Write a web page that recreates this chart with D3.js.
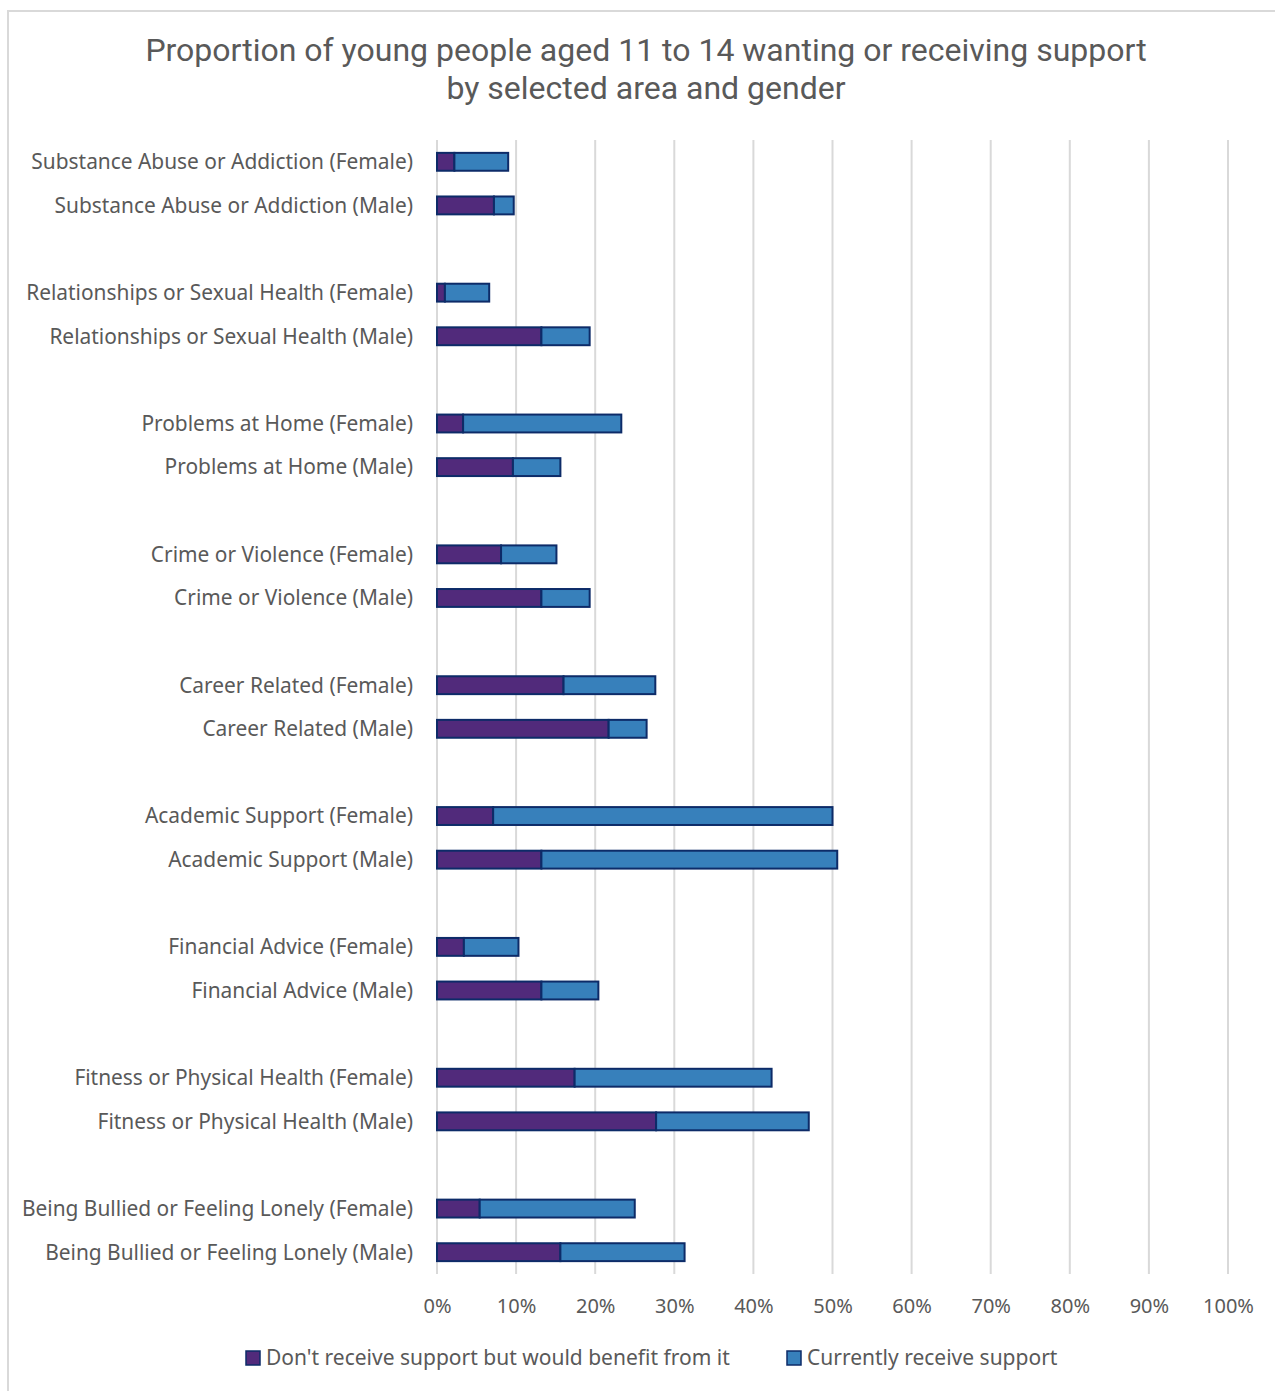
<!DOCTYPE html>
<html>
<head>
<meta charset="utf-8">
<script src="https://cdn.jsdelivr.net/npm/d3@7"></script>
<style>
  html, body { margin: 0; padding: 0; background: #fff; }
  svg { display: block; }
</style>
</head>
<body>
<svg id="chart" width="1275" height="1391"></svg>
<script>
// Support areas, each asked of female and male respondents
const areas = [
  "Substance Abuse or Addiction",
  "Relationships or Sexual Health",
  "Problems at Home",
  "Crime or Violence",
  "Career Related",
  "Academic Support",
  "Financial Advice",
  "Fitness or Physical Health",
  "Being Bullied or Feeling Lonely"
];
const genders = ["Female", "Male"];

// Share (%) who don't receive support but would benefit from it (female, male per area)
const wouldBenefit = [
  2.2, 7.2,
  1.0, 13.2,
  3.3, 9.6,
  8.1, 13.2,
  16.0, 21.7,
  7.1, 13.2,
  3.4, 13.2,
  17.4, 27.7,
  5.4, 15.6
];
// Share (%) currently receiving support (female, male per area)
const receiving = [
  6.8, 2.5,
  5.6, 6.1,
  20.0, 6.0,
  7.0, 6.1,
  11.6, 4.8,
  42.9, 37.4,
  6.9, 7.2,
  24.9, 19.3,
  19.6, 15.7
];

const seriesNames = ["Don't receive support but would benefit from it", "Currently receive support"];
const xTicks = [0, 10, 20, 30, 40, 50, 60, 70, 80, 90, 100];
const titleLines = [
  "Proportion of young people aged 11 to 14 wanting or receiving support",
  "by selected area and gender"
];

const colors = { benefit: "#512a7b", receive: "#3780bb", edge: "#0d2b68", grid: "#d9d9d9", text: "#595959" };

// Rows: two bars per area, with an empty spacer row between areas
const rows = [];
areas.forEach((a, i) => {
  genders.forEach((g, j) => {
    const k = i * 2 + j;
    rows.push({ key: `${a} (${g})`, label: `${a} (${g})`, benefit: wouldBenefit[k], receive: receiving[k] });
  });
  if (i < areas.length - 1) rows.push({ key: `gap-${i}`, label: "", spacer: true });
});

const svg = d3.select("#chart");
const plot = { left: 437, right: 1228, top: 140, bottom: 1274 };

// Chart frame
svg.append("path")
  .attr("d", `M8,1391 L8,11 L1275,11`)
  .attr("fill", "none").attr("stroke", colors.grid).attr("stroke-width", 2);

// Title
svg.append("text")
  .attr("x", 646).attr("y", 61)
  .attr("text-anchor", "middle")
  .attr("font-family", "Roboto, 'Liberation Sans', sans-serif")
  .attr("font-size", 32).attr("fill", colors.text)
  .selectAll("tspan").data(titleLines).join("tspan")
  .attr("x", 646).attr("dy", (d, i) => i === 0 ? 0 : 38)
  .text(d => d);

const x = d3.scaleLinear().domain([0, 100]).range([plot.left, plot.right]);
const y = d3.scaleBand().domain(rows.map(r => r.key)).range([plot.top, plot.bottom]).paddingInner(0.59).paddingOuter(0.295);

// Vertical gridlines
svg.append("g").selectAll("line").data(xTicks).join("line")
  .attr("x1", d => x(d)).attr("x2", d => x(d))
  .attr("y1", plot.top).attr("y2", plot.bottom)
  .attr("stroke", colors.grid).attr("stroke-width", 2);

// X axis tick labels
const xAxis = d3.axisBottom(x).tickValues(xTicks).tickFormat(d => d + "%").tickSize(0).tickPadding(0);
const gx = svg.append("g").attr("transform", `translate(0,${plot.bottom})`).call(xAxis);
gx.select(".domain").remove();
gx.selectAll("text")
  .attr("y", 39).attr("dy", 0)
  .attr("font-family", "'Noto Sans', 'Open Sans', sans-serif")
  .attr("font-size", 20).attr("fill", colors.text);

// Category labels
const yAxis = d3.axisLeft(y).tickFormat(k => (rows.find(r => r.key === k) || {}).label).tickSize(0).tickPadding(0);
const gy = svg.append("g").attr("transform", `translate(${413},0)`).call(yAxis);
gy.select(".domain").remove();
gy.selectAll("text")
  .attr("dy", "0.35em")
  .attr("font-family", "'Noto Sans', 'Open Sans', sans-serif")
  .attr("font-size", 20.9).attr("fill", colors.text);

// Stacked bars
const stack = d3.stack().keys(["benefit", "receive"]);
const bars = rows.filter(r => !r.spacer);
const stacked = stack(bars);
svg.append("g").selectAll("g").data(stacked).join("g")
  .attr("fill", d => colors[d.key])
  .selectAll("rect").data(d => d).join("rect")
  .attr("x", d => x(d[0]))
  .attr("y", d => y(d.data.key))
  .attr("width", d => x(d[1]) - x(d[0]))
  .attr("height", y.bandwidth())
  .attr("stroke", colors.edge).attr("stroke-width", 2);

// Legend
const legendItems = [
  { name: seriesNames[0], color: colors.benefit, x: 246 },
  { name: seriesNames[1], color: colors.receive, x: 787 }
];
const lg = svg.append("g").selectAll("g").data(legendItems).join("g")
  .attr("transform", d => `translate(${d.x},1351)`);
lg.append("rect").attr("width", 14).attr("height", 14)
  .attr("fill", d => d.color).attr("stroke", colors.edge).attr("stroke-width", 1.5);
lg.append("text").attr("x", 20).attr("y", 7).attr("dy", "0.35em")
  .attr("font-family", "'Noto Sans', 'Open Sans', sans-serif")
  .attr("font-size", 21).attr("fill", colors.text)
  .text(d => d.name);
</script>
</body>
</html>
